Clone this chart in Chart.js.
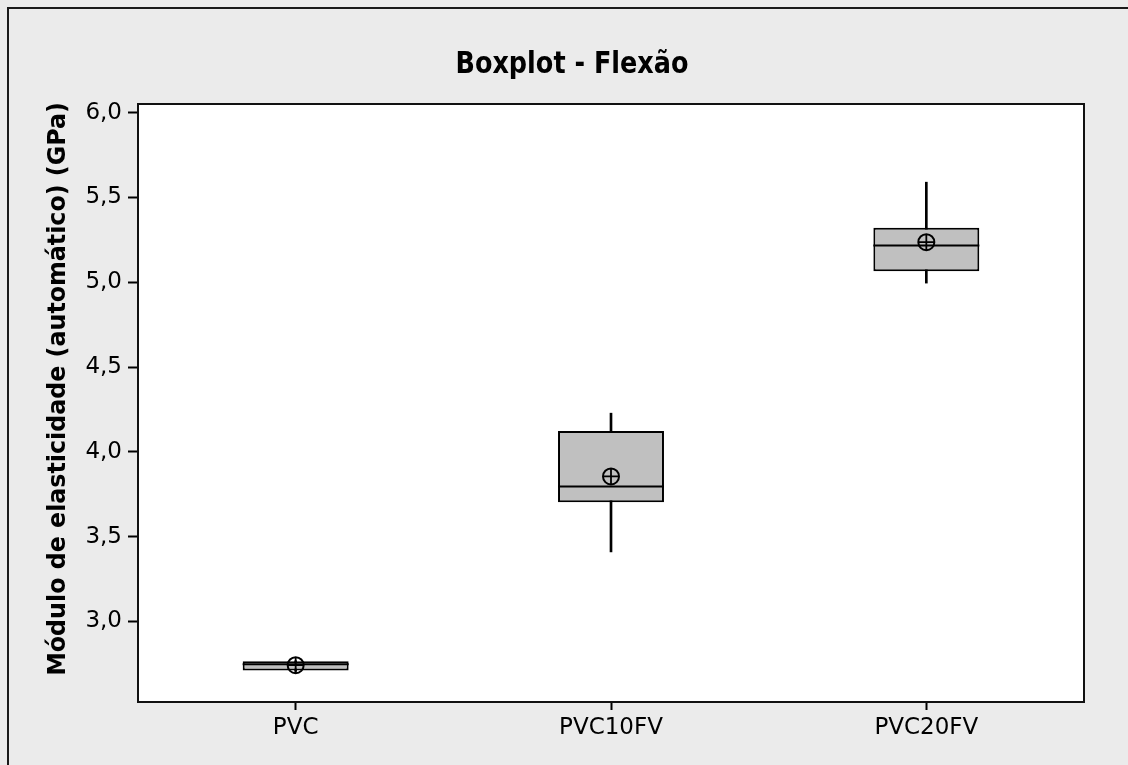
<!DOCTYPE html>
<html lang="pt">
<head>
<meta charset="utf-8">
<title>Boxplot - Flexão</title>
<script src="https://cdn.jsdelivr.net/npm/chart.js@4.4.1/dist/chart.umd.min.js"></script>
<style>
  html, body { margin: 0; padding: 0; background: #ebebeb; overflow: hidden; }
  #wrap { width: 1128px; height: 765px; }
  canvas { display: block; }
</style>
</head>
<body>
<div id="wrap"><canvas id="grafico" width="1128" height="765"></canvas></div>
<script>
// Amostras de módulo de elasticidade em flexão (GPa)
const categories = ['PVC', 'PVC10FV', 'PVC20FV'];
const whiskerLow  = [2.706, 3.410, 4.995];
const q1          = [2.710, 3.703, 5.065];
const median      = [2.748, 3.795, 5.216];
const q3          = [2.765, 4.123, 5.322];
const whiskerHigh = [2.768, 4.228, 5.590];
const mean        = [2.742, 3.855, 5.236];
const yTicks      = [3.0, 3.5, 4.0, 4.5, 5.0, 5.5, 6.0];

const chartTitle = 'Boxplot - Flexão';
const yTitle = 'Módulo de elasticidade (automático) (GPa)';

// Fundo cinza, moldura externa, área do gráfico e títulos
const moldura = {
  id: 'moldura',
  beforeDraw(chart) {
    const { ctx, chartArea: a, width, height } = chart;
    ctx.save();
    ctx.fillStyle = '#ebebeb';
    ctx.fillRect(0, 0, width, height);
    ctx.strokeStyle = '#1a1a1a';
    ctx.lineWidth = 2;
    ctx.beginPath();
    ctx.moveTo(8, height);
    ctx.lineTo(8, 8);
    ctx.lineTo(width, 8);
    ctx.stroke();
    ctx.fillStyle = '#ffffff';
    ctx.fillRect(a.left, a.top, a.right - a.left, a.bottom - a.top);
    ctx.restore();
  },
  afterDraw(chart) {
    const { ctx, chartArea: a } = chart;
    ctx.save();
    ctx.strokeStyle = '#111';
    ctx.lineWidth = 2;
    ctx.strokeRect(a.left, a.top, a.right - a.left, a.bottom - a.top);

    ctx.fillStyle = '#000';
    ctx.textAlign = 'center';
    ctx.textBaseline = 'alphabetic';

    ctx.save();
    ctx.translate(572, 73);
    ctx.scale(0.85, 1);
    ctx.font = 'bold 30px "DejaVu Sans"';
    ctx.fillText(chartTitle, 0, 0);
    ctx.restore();

    ctx.save();
    ctx.translate(65, 389);
    ctx.rotate(-Math.PI / 2);
    ctx.scale(0.95, 1);
    ctx.font = 'bold 25px "DejaVu Sans"';
    ctx.fillText(yTitle, 0, 0);
    ctx.restore();

    ctx.restore();
  }
};

const ctx = document.getElementById('grafico').getContext('2d');
new Chart(ctx, {
  type: 'bar',
  data: {
    labels: categories,
    datasets: [
      {
        type: 'line', label: 'Média', data: mean, showLine: false,
        pointStyle: 'circle', pointRadius: 8, pointHoverRadius: 8,
        borderColor: '#000', backgroundColor: 'rgba(0,0,0,0)', borderWidth: 2, order: 0
      },
      {
        type: 'line', label: 'Média (cruz)', data: mean, showLine: false,
        pointStyle: 'cross', pointRadius: 8, pointHoverRadius: 8,
        borderColor: '#000', borderWidth: 1.8, order: 0
      },
      {
        type: 'line', label: 'Mediana', data: median, showLine: false,
        pointStyle: 'line', pointRadius: 53, pointHoverRadius: 53,
        borderColor: '#000', borderWidth: 2, order: 1
      },
      {
        label: 'Caixa', data: categories.map((_, i) => [q1[i], q3[i]]),
        backgroundColor: '#c0c0c0', borderColor: '#000', borderWidth: 2,
        borderSkipped: false, grouped: false,
        barPercentage: 0.336, categoryPercentage: 1, order: 2
      },
      {
        label: 'Bigodes', data: categories.map((_, i) => [whiskerLow[i], whiskerHigh[i]]),
        backgroundColor: '#000', borderWidth: 0, barThickness: 2,
        grouped: false, order: 3
      }
    ]
  },
  options: {
    responsive: false,
    animation: false,
    events: [],
    layout: { autoPadding: false, padding: { left: 0, top: 104, right: 44, bottom: 0 } },
    plugins: {
      legend: { display: false },
      title: { display: false },
      tooltip: { enabled: false }
    },
    scales: {
      x: {
        type: 'category',
        offset: true,
        grid: {
          display: true, offset: false, drawOnChartArea: false, drawTicks: true,
          tickLength: 8, tickWidth: 2, tickColor: '#000'
        },
        border: { display: false },
        ticks: {
          color: '#000', padding: 4, maxRotation: 0,
          font: { family: 'DejaVu Sans', size: 23 }
        },
        afterFit(s) {
          s.height = 63;
          s.paddingLeft = 0;
          s.paddingRight = 0;
        }
      },
      y: {
        type: 'linear',
        min: 2.525,
        max: 6.051,
        afterBuildTicks(s) { s.ticks = yTicks.map(v => ({ value: v })); },
        grid: {
          display: true, drawOnChartArea: false, drawTicks: true,
          tickLength: 10, tickWidth: 2, tickColor: '#000'
        },
        border: { display: false },
        ticks: {
          color: '#000', padding: 6,
          font: { family: 'DejaVu Sans', size: 23 },
          callback: v => v.toFixed(1).replace('.', ',')
        },
        afterFit(s) {
          s.width = 138;
          s.paddingTop = 0;
          s.paddingBottom = 0;
        }
      }
    }
  },
  plugins: [moldura]
});
</script>
</body>
</html>
